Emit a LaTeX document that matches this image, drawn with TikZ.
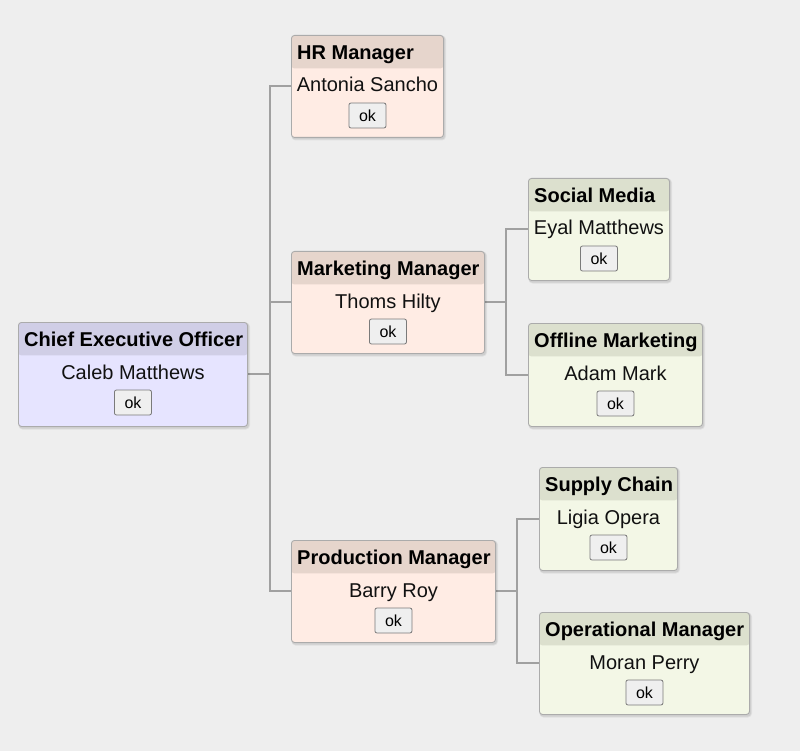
\documentclass[tikz,border=0pt]{standalone}
\usepackage{fontspec}
\setmainfont{Liberation Sans}
\usetikzlibrary{backgrounds}
\definecolor{bgc}{HTML}{EEEEEE}
\definecolor{ceoBody}{HTML}{E6E4FF}
\definecolor{ceoHead}{HTML}{D0CEE6}
\definecolor{mgrBody}{HTML}{FFECE4}
\definecolor{mgrHead}{HTML}{E6D5CC}
\definecolor{subBody}{HTML}{F3F7E6}
\definecolor{subHead}{HTML}{DCE0CE}
\definecolor{boxLine}{HTML}{ABABAB}
\definecolor{connLine}{HTML}{A0A0A0}
\definecolor{btnFill}{HTML}{EFEFEF}
\definecolor{btnLine}{HTML}{7A7A7A}
\definecolor{txt}{HTML}{111111}
\tikzset{
  box/.style={draw=boxLine, line width=0.9pt, rounded corners=3pt, inner sep=0pt, rectangle},
  titletext/.style={inner sep=0pt, text=black, font=\fontsize{20}{24}\selectfont\bfseries},
  persontext/.style={inner sep=0pt, text=txt, font=\fontsize{20}{24}\selectfont},
  okbtn/.style={draw=btnLine, line width=0.8pt, fill=btnFill, rounded corners=2pt, minimum width=37pt, minimum height=25pt, inner sep=0pt, text=black, font=\fontsize{16}{19}\selectfont},
  conn/.style={draw=connLine, line width=2pt},
}
% #1 name, #2 x, #3 y, #4 w, #5 h, #6 body, #7 head, #8 title, #9 person
\newcommand\orgbox[9]{%
  \fill[black, opacity=0.06, rounded corners=4pt] (#2+0.5,#3+0.5) rectangle ++(#4+2.5,#5+3);
  \fill[black, opacity=0.08, rounded corners=3pt] (#2+1,#3+1) rectangle ++(#4+1,#5+1.5);
  \node[box, fill=#6, minimum width=#4pt, minimum height=#5pt, anchor=north west,
    path picture={\fill[#7] (path picture bounding box.north west) rectangle ([yshift=-33pt]path picture bounding box.north east);}]
    (#1) at (#2,#3) {};
  \node[titletext, anchor=base west] (#1-t) at ([xshift=6pt,yshift=-24.5pt]#1.north west) {#8};
  \node[persontext, anchor=base] (#1-p) at ([yshift=-57pt]#1.north) {#9};
  \node[okbtn] (#1-b) at ([yshift=-80.5pt]#1.north) {ok};
}
\begin{document}
\begin{tikzpicture}[x=1pt, y=-1pt]
\useasboundingbox (0,0) rectangle (800,751);
\orgbox{ceo}{18}{322}{229}{104}{ceoBody}{ceoHead}{Chief Executive Officer}{Caleb Matthews}
\orgbox{hr}{291}{35}{152}{102}{mgrBody}{mgrHead}{HR Manager}{Antonia Sancho}
\orgbox{mk}{291}{251}{193}{102}{mgrBody}{mgrHead}{Marketing Manager}{Thoms Hilty}
\orgbox{pr}{291}{540}{204}{102}{mgrBody}{mgrHead}{Production Manager}{Barry Roy}
\orgbox{sm}{528}{178}{141}{102}{subBody}{subHead}{Social Media}{Eyal Matthews}
\orgbox{om}{528}{323}{174}{103}{subBody}{subHead}{Offline Marketing}{Adam Mark}
\orgbox{sc}{539}{467}{138}{103}{subBody}{subHead}{Supply Chain}{Ligia Opera}
\orgbox{op}{539}{612}{210}{102}{subBody}{subHead}{Operational Manager}{Moran Perry}
\coordinate (t1) at (269.5,0);
\coordinate (t2) at (506,0);
\coordinate (t3) at (517,0);
\begin{scope}[on background layer]
\fill[bgc] (0,0) rectangle (800,751);
\draw[conn] (ceo.east) -- (ceo.east -| t1);
\draw[conn] (ceo.east -| t1) |- (hr.west);
\draw[conn] (ceo.east -| t1) |- (mk.west);
\draw[conn] (ceo.east -| t1) |- (pr.west);
\draw[conn] (mk.east) -- (mk.east -| t2);
\draw[conn] (mk.east -| t2) |- (sm.west);
\draw[conn] (mk.east -| t2) |- (om.west);
\draw[conn] (pr.east) -- (pr.east -| t3);
\draw[conn] (pr.east -| t3) |- (sc.west);
\draw[conn] (pr.east -| t3) |- (op.west);
\end{scope}
\end{tikzpicture}
\end{document}
